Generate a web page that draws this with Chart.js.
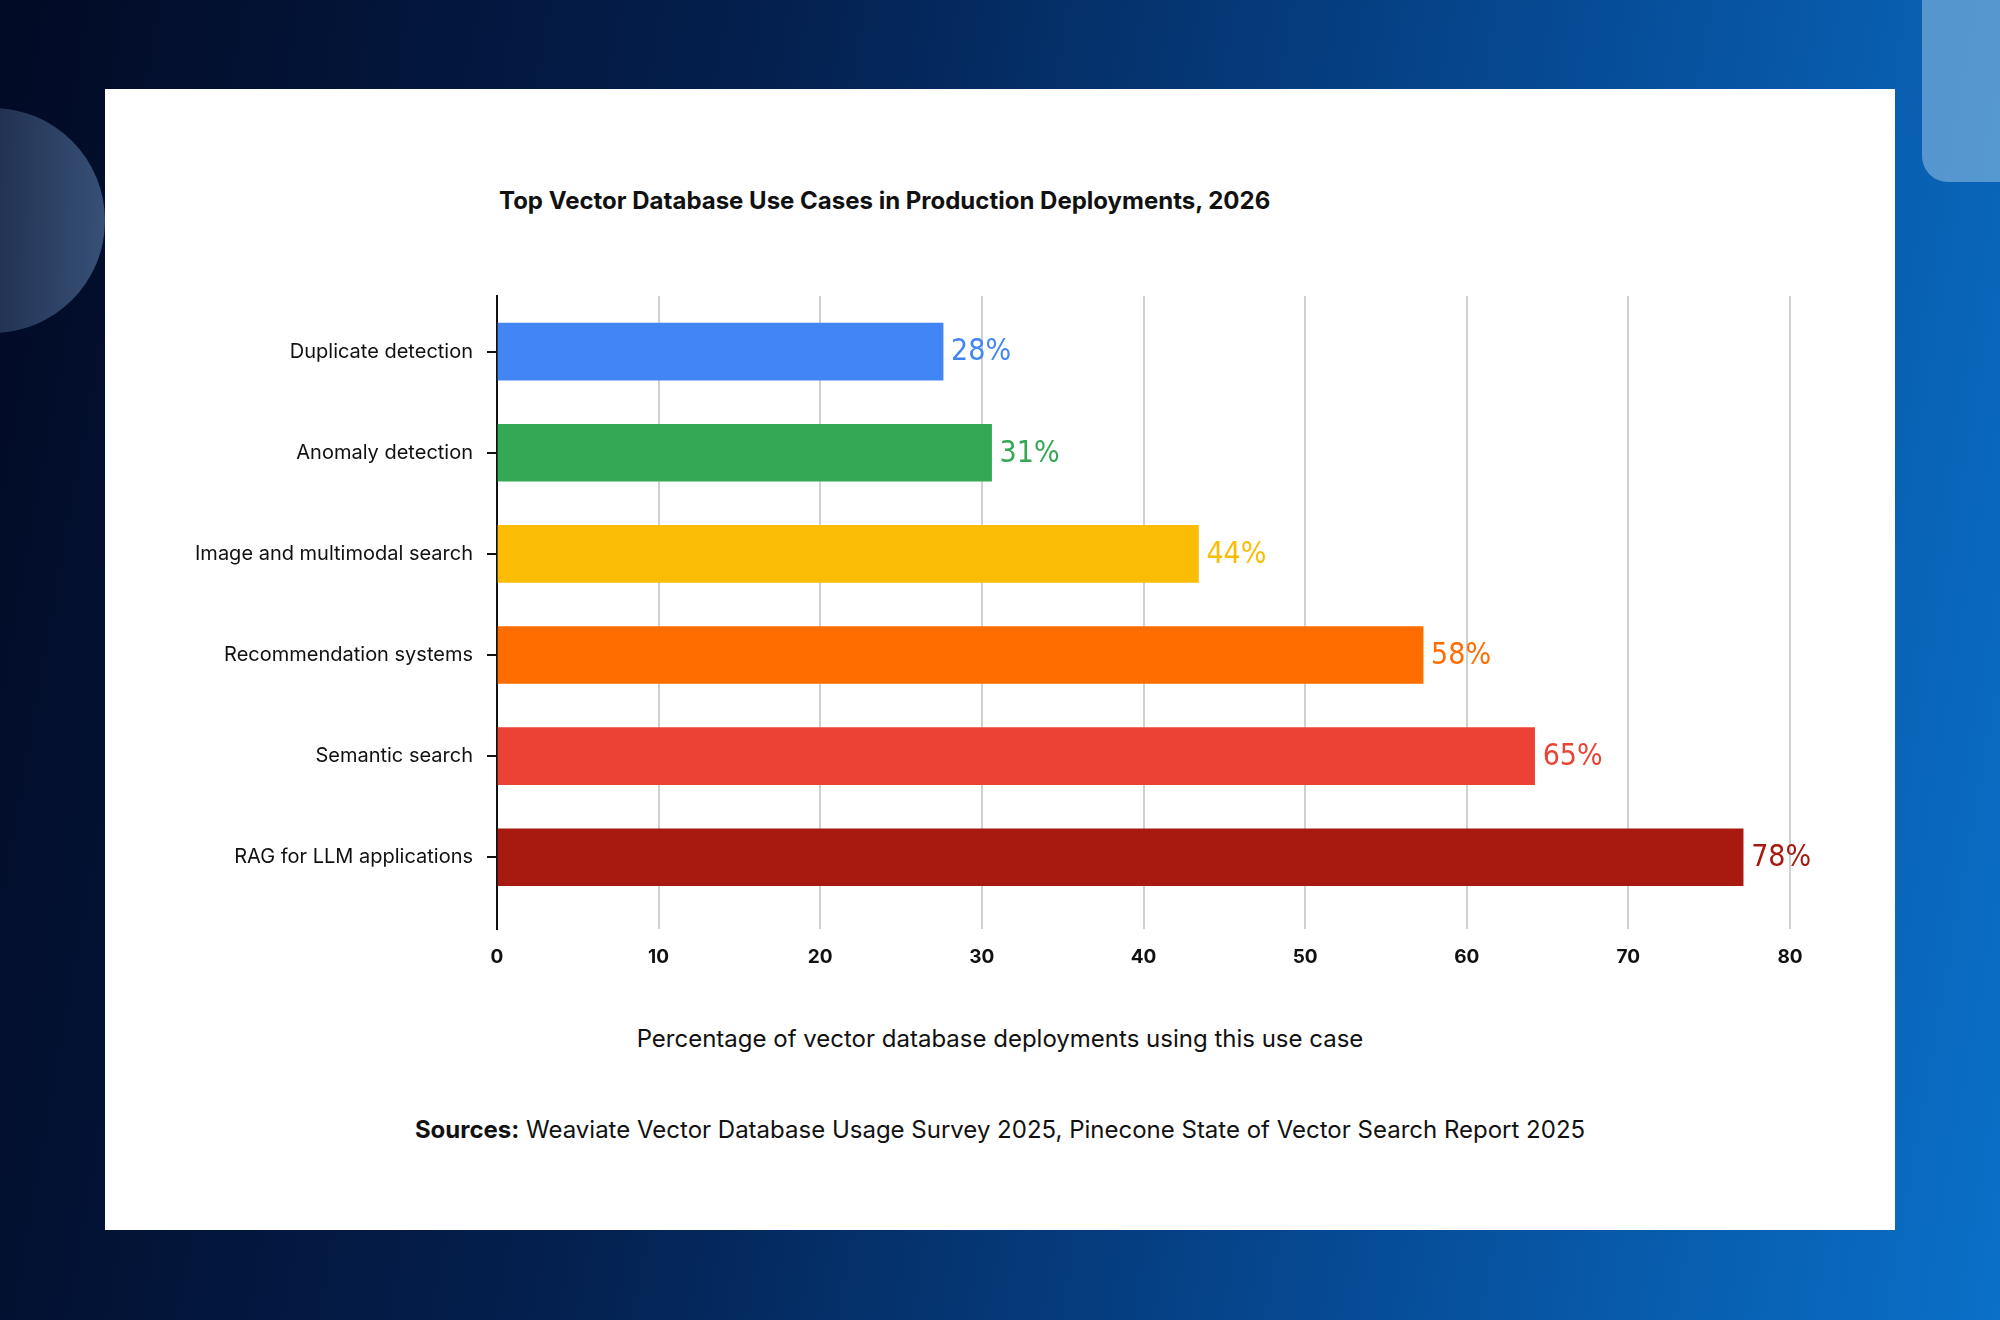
<!DOCTYPE html>
<html>
<head>
<meta charset="utf-8">
<script src="https://cdn.jsdelivr.net/npm/chart.js@4"></script>
<style>
  body { margin:0; width:2000px; height:1320px; overflow:hidden; position:relative;
    background: linear-gradient(100deg, #020a24 0%, #04204f 35%, #064a94 70%, #0a70c8 100%);
    font-family: Inter, "Noto Sans", sans-serif; }
  .circle { position:absolute; left:-120px; top:108px; width:225px; height:225px; border-radius:50%;
    background: linear-gradient(90deg, rgba(255,255,255,0.03), rgba(120,160,210,0.45)); }
  .rrect { position:absolute; left:1922px; top:-40px; width:120px; height:222px; border-radius:26px;
    background: rgba(150,195,230,0.55); }
  .card { position:absolute; left:105px; top:89px; width:1790px; height:1141px; background:#fff; }
  .title { position:absolute; left:499px; top:186px; font-size:24px; font-weight:700; color:#111; }
  .xtitle { position:absolute; left:0; width:2000px; top:1024px; text-align:center; font-size:24px; color:#111; }
  .src { position:absolute; left:0; width:2000px; top:1115px; text-align:center; font-size:24px; color:#111; }
  canvas { position:absolute; left:0; top:0; }
</style>
</head>
<body>
<div class="circle"></div>
<div class="rrect"></div>
<div class="card"></div>
<div class="title">Top Vector Database Use Cases in Production Deployments, 2026</div>
<div class="xtitle">Percentage of vector database deployments using this use case</div>
<div class="src"><b>Sources:</b> Weaviate Vector Database Usage Survey 2025, Pinecone State of Vector Search Report 2025</div>
<div style="position:absolute;left:0;top:0;width:2000px;height:1320px"><canvas id="c"></canvas></div>
<script>
const categories = ['Duplicate detection', 'Anomaly detection', 'Image and multimodal search',
  'Recommendation systems', 'Semantic search', 'RAG for LLM applications'];
const values = [27.6, 30.6, 43.4, 57.3, 64.2, 77.1];
const valueLabels = ['28%', '31%', '44%', '58%', '65%', '78%'];
const colors = ['#4285F4', '#34A853', '#FBBC05', '#FF6D00', '#EA4335', '#A8190F'];

const endLabels = {
  id: 'endLabels',
  afterDatasetsDraw(chart) {
    const ctx = chart.ctx;
    const meta = chart.getDatasetMeta(0);
    ctx.save();
    ctx.font = '500 30px "Liberation Sans Narrow", "DejaVu Sans Condensed", sans-serif';
    ctx.textBaseline = 'middle';
    meta.data.forEach((bar, i) => {
      ctx.fillStyle = colors[i];
      ctx.fillText(valueLabels[i], bar.x + 8, bar.y + 1);
    });
    ctx.restore();
  }
};

new Chart(document.getElementById('c'), {
  type: 'bar',
  data: { datasets: [{ data: values.map((v, i) => ({ x: v, y: i })), backgroundColor: colors,
    barThickness: 57 }] },
  options: {
    indexAxis: 'y', responsive: true, maintainAspectRatio: false, animation: false,
    layout: { padding: { left: 0, right: 210, top: 296, bottom: 331 } },
    plugins: { legend: { display: false }, tooltip: { enabled: false } },
    scales: {
      x: {
        min: 0, max: 80,
        ticks: { stepSize: 10, color: '#111', font: { family: 'Inter', size: 19, weight: 'bold' }, padding: 17 },
        grid: { color: '#d0d0d0', lineWidth: 2, drawTicks: false },
        border: { display: false },
        afterFit(a) { a.height = 60; }
      },
      y: {
        type: 'linear', reverse: true, min: -0.55, max: 5.71, offset: false,
        afterBuildTicks(a) { a.ticks = categories.map((c, i) => ({ value: i })); },
        ticks: { color: '#111', font: { family: 'Inter', size: 20 }, padding: 14,
          callback: v => categories[v] },
        grid: { drawOnChartArea: false, offset: false, color: '#111', tickLength: 10, lineWidth: 2 },
        border: { color: '#111', width: 2 },
        afterFit(a) { a.width = 497; }
      }
    }
  },
  plugins: [endLabels]
});
</script>
</body>
</html>
